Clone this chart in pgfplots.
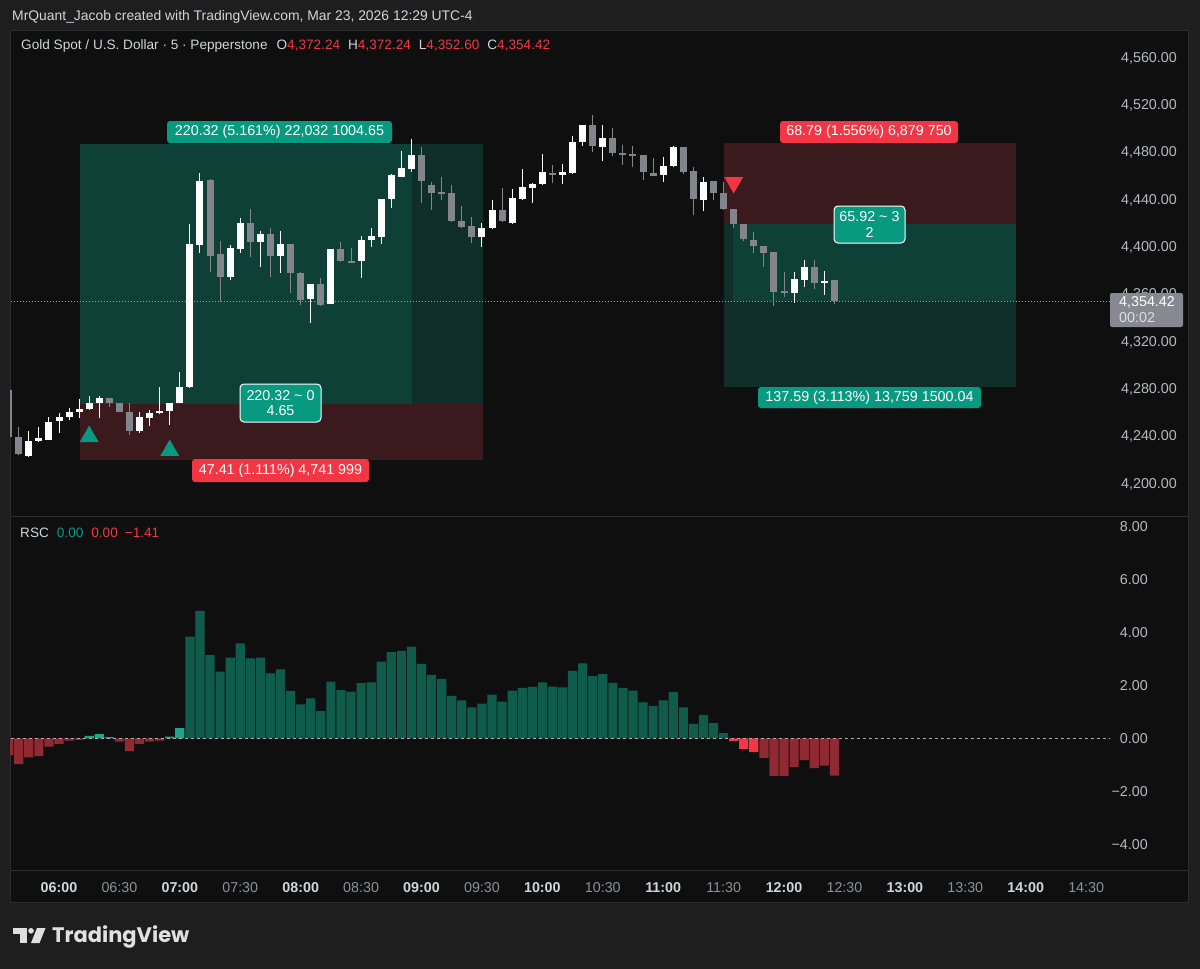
\documentclass[border=0pt]{standalone}
\usepackage{fontspec}
\setmainfont{Liberation Sans}
\newfontfamily\logofont{Poppins}
\usepackage{pgfplots}
\usepackage{pgfplotstable}
\pgfplotsset{compat=1.18}
\newcommand\fs[1]{\fontsize{#1}{#1}\selectfont}
\definecolor{outerbg}{HTML}{1E1E1E}
\definecolor{panebg}{HTML}{0F0F0F}
\definecolor{framec}{HTML}{2C2C2C}
\definecolor{sepc}{HTML}{2E2E2E}
\definecolor{txt}{HTML}{D1D4DC}
\definecolor{axtxt}{HTML}{B8B9BE}
\definecolor{axtxtdim}{HTML}{8E9098}
\definecolor{tvred}{HTML}{F23645}
\definecolor{tvteal}{HTML}{089981}
\definecolor{cgrey}{HTML}{83848C}
\definecolor{boxgreen}{HTML}{0E4038}
\definecolor{boxgreendk}{HTML}{0F2E29}
\definecolor{boxred}{HTML}{3B1A1E}
\definecolor{rscgreen}{HTML}{0F5C4D}
\definecolor{rscteal}{HTML}{1FA68A}
\definecolor{rscred}{HTML}{8F2A33}
\definecolor{pricebox}{HTML}{878891}
\definecolor{zeroc}{HTML}{A9ACB4}

\pgfplotstableread{
t o h l c
-25 4279.48 4282.01 4239.73 4239.73
-20 4239.73 4248.19 4224.51 4225.35
25 4272.71 4272.71 4265.10 4268.48
30 4268.48 4268.48 4260.87 4260.87
35 4260.87 4268.48 4241.42 4244.80
75 4457.07 4458.00 4379.27 4392.80
80 4394.49 4405.49 4354.00 4375.04
95 4420.71 4432.55 4391.96 4404.64
105 4411.41 4416.48 4375.04 4392.80
115 4402.95 4402.95 4361.51 4378.42
120 4378.42 4379.27 4351.36 4355.59
130 4369.12 4374.20 4350.52 4351.36
140 4398.72 4404.64 4387.73 4388.57
145 4388.57 4399.57 4387.30 4387.73
180 4478.22 4484.98 4437.62 4456.23
185 4452.85 4455.38 4431.70 4446.08
190 4446.93 4459.61 4440.16 4445.23
195 4446.08 4452.85 4421.55 4422.40
200 4422.40 4435.09 4416.48 4417.33
205 4418.17 4425.78 4403.79 4408.87
220 4431.70 4450.31 4421.55 4422.40
245 4462.99 4469.76 4454.54 4461.30
265 4503.59 4512.04 4480.75 4485.83
275 4492.59 4501.05 4477.37 4479.91
280 4479.91 4486.67 4469.76 4478.60
285 4479.06 4485.83 4468.07 4477.80
290 4478.22 4478.22 4457.07 4463.84
295 4462.99 4475.68 4460.46 4460.46
310 4484.98 4484.98 4462.15 4463.84
315 4464.69 4468.07 4427.47 4441.01
325 4456.23 4456.23 4440.16 4446.08
330 4446.08 4455.38 4431.70 4432.55
335 4432.55 4432.55 4416.48 4419.86
340 4419.86 4419.86 4405.49 4407.18
345 4406.33 4413.10 4395.34 4401.26
350 4401.26 4401.26 4383.50 4395.34
355 4396.18 4396.18 4350.52 4362.36
360 4363.20 4379.27 4358.13 4361.51
375 4383.50 4389.42 4364.89 4369.97
385 4372.24 4372.24 4352.60 4354.42
}\downdata

\pgfplotstableread{
t o h l c
-15 4223.66 4244.80 4222.82 4236.35
-10 4236.35 4248.19 4235.50 4238.88
-5 4237.19 4256.64 4237.19 4252.41
0 4253.26 4260.03 4243.11 4256.64
5 4256.64 4264.25 4254.11 4260.87
10 4260.87 4271.87 4255.80 4263.41
15 4263.41 4274.40 4262.56 4268.48
20 4268.48 4274.40 4255.80 4272.71
40 4244.80 4260.87 4243.11 4256.64
45 4255.80 4262.56 4249.03 4260.03
50 4260.03 4282.01 4259.18 4261.72
55 4261.72 4268.48 4249.88 4268.48
60 4268.48 4294.70 4268.48 4282.01
65 4282.01 4419.86 4281.17 4402.95
70 4402.10 4462.99 4395.34 4456.23
85 4375.04 4402.10 4372.50 4399.57
90 4398.72 4424.94 4395.34 4420.71
100 4404.64 4413.94 4383.50 4411.41
110 4392.80 4413.94 4378.42 4402.95
125 4356.44 4369.12 4336.14 4369.12
135 4352.21 4398.72 4352.21 4398.72
150 4388.57 4409.71 4374.20 4406.33
155 4406.33 4416.48 4400.41 4409.71
160 4408.87 4441.01 4402.95 4441.01
165 4441.01 4462.15 4433.39 4461.30
170 4459.61 4481.60 4459.61 4467.22
175 4466.38 4491.75 4463.84 4478.22
210 4408.87 4420.71 4400.41 4416.48
215 4416.48 4440.16 4415.63 4431.70
225 4420.71 4449.46 4419.86 4441.85
230 4441.01 4466.38 4440.16 4451.15
235 4450.31 4454.54 4437.62 4453.69
240 4453.69 4479.06 4452.85 4463.84
250 4461.30 4470.61 4453.69 4463.84
255 4462.99 4494.28 4462.15 4489.21
260 4489.21 4503.59 4485.83 4503.59
270 4484.98 4503.59 4473.14 4492.59
300 4461.30 4476.53 4455.38 4468.91
305 4468.91 4485.83 4468.07 4484.98
320 4440.16 4459.61 4430.86 4455.38
365 4361.51 4379.27 4353.05 4373.35
370 4372.50 4389.42 4366.58 4383.50
380 4370.30 4380.12 4359.82 4371.66
}\updata

\pgfplotstableread{
t v
65 3.84
70 4.81
75 3.14
80 2.52
85 3.04
90 3.58
95 3.02
100 3.04
105 2.45
110 2.60
115 1.79
120 1.28
125 1.51
130 1.03
135 2.14
140 1.82
145 1.76
150 2.08
155 2.11
160 2.89
165 3.25
170 3.30
175 3.46
180 2.81
185 2.39
190 2.24
195 1.60
200 1.43
205 1.17
210 1.31
215 1.65
220 1.38
225 1.80
230 1.90
235 1.94
240 2.11
245 1.95
250 1.92
255 2.54
260 2.83
265 2.35
270 2.43
275 2.09
280 1.90
285 1.80
290 1.36
295 1.22
300 1.43
305 1.75
310 1.17
315 0.54
320 0.88
325 0.57
330 0.20
}\rscdkgreen

\pgfplotstableread{
t v
15 0.09
20 0.16
25 0.04
55 0.06
60 0.38
}\rsclight

\pgfplotstableread{
t v
-25 -0.63
-20 -0.97
-15 -0.72
-10 -0.67
-5 -0.31
0 -0.21
5 -0.09
10 -0.06
30 -0.13
35 -0.48
40 -0.21
45 -0.13
50 -0.09
350 -0.74
355 -1.42
360 -1.42
365 -1.08
370 -0.82
375 -1.13
380 -1.03
385 -1.41
}\rscdkred

\pgfplotstableread{
t v
335 -0.11
340 -0.40
345 -0.52
}\rscbright

\begin{document}
\begin{tikzpicture}
% frame
\fill[outerbg] (0pt,0pt) rectangle (1200pt,-969pt);
\fill[panebg] (10pt,-30pt) rectangle (1189pt,-903pt);
\draw[framec, line width=1pt] (10.5pt,-30.5pt) rectangle (1188.5pt,-902.5pt);
\draw[sepc, line width=1pt] (10pt,-516pt) -- (1189pt,-516pt);
\draw[sepc, line width=0.6pt] (10pt,-870pt) -- (1189pt,-870pt);

% price pane
\begin{axis}[
  at={(10pt,-30pt)}, anchor=north west, scale only axis,
  width=1100pt, height=486pt,
  xmin=-24.33, xmax=521.85, ymin=4172.92, ymax=4583.93,
  axis line style={draw=none}, major tick length=0pt,
  xtick=\empty,
  ytick={4200,4240,4280,4320,4360,4400,4440,4480,4520,4560},
  yticklabels={{4,200.00},{4,240.00},{4,280.00},{4,320.00},{4,360.00},{4,400.00},{4,440.00},{4,480.00},{4,520.00},{4,560.00}},
  yticklabel pos=right,
  yticklabel style={anchor=east, inner sep=0pt, xshift=67pt, text=axtxt, font=\fs{14.3}},
]
% position tools
\fill[boxgreen] (axis cs:10.43,4267.6) rectangle (axis cs:175.3,4487.92);
\fill[boxgreendk] (axis cs:175.3,4267.6) rectangle (axis cs:210.5,4487.92);
\fill[boxred] (axis cs:10.43,4220.19) rectangle (axis cs:210.5,4267.6);
\fill[boxred] (axis cs:330.2,4419.9) rectangle (axis cs:475.2,4488.69);
\fill[boxgreendk] (axis cs:330.2,4282.31) rectangle (axis cs:475.2,4419.9);
\fill[boxgreen] (axis cs:334.7,4354.42) rectangle (axis cs:475.2,4419.9);
% current price line
\addplot[color=cgrey!80, line width=0.8pt, dash pattern=on 1pt off 2pt] coordinates {(-30,4354.42) (530,4354.42)};
% wicks
\addplot[draw=none, mark=none, error bars/.cd, y dir=both, y explicit, error mark=none,
  error bar style={draw=cgrey, line width=1pt}]
  table[x=t, y expr={(\thisrow{h}+\thisrow{l})/2}, y error expr={(\thisrow{h}-\thisrow{l})/2}] {\downdata};
\addplot[draw=none, mark=none, error bars/.cd, y dir=both, y explicit, error mark=none,
  error bar style={draw=white, line width=1pt}]
  table[x=t, y expr={(\thisrow{h}+\thisrow{l})/2}, y error expr={(\thisrow{h}-\thisrow{l})/2}] {\updata};
% bodies
\addplot[draw=none, mark=none, error bars/.cd, y dir=both, y explicit, error mark=none,
  error bar style={draw=cgrey, line width=7pt}]
  table[x=t, y expr={(\thisrow{o}+\thisrow{c})/2}, y error expr={max(abs(\thisrow{o}-\thisrow{c})/2,0.45)}] {\downdata};
\addplot[draw=none, mark=none, error bars/.cd, y dir=both, y explicit, error mark=none,
  error bar style={draw=white, line width=7pt}]
  table[x=t, y expr={(\thisrow{o}+\thisrow{c})/2}, y error expr={max(abs(\thisrow{o}-\thisrow{c})/2,0.45)}] {\updata};
% signals
\addplot[only marks, mark=triangle*, mark size=10.5pt, color=tvteal, mark options={draw=none, fill=tvteal}]
  coordinates {(15,4240.1) (55,4228.3)};
\addplot[only marks, mark=triangle*, mark size=10.5pt, color=tvred, mark options={draw=none, fill=tvred, rotate=180}]
  coordinates {(335,4455.0)};
\end{axis}

% RSC pane
\begin{axis}[
  at={(10pt,-516pt)}, anchor=north west, scale only axis,
  width=1100pt, height=354pt,
  xmin=-24.33, xmax=521.85, ymin=-4.97, ymax=8.389,
  axis line style={draw=none}, major tick length=0pt,
  ytick={-4,-2,0,2,4,6,8},
  yticklabels={−4.00,−2.00,0.00,2.00,4.00,6.00,8.00},
  yticklabel pos=right,
  yticklabel style={anchor=east, inner sep=0pt, xshift=38pt, text=axtxt, font=\fs{14.3}},
  xtick={0,30,60,90,120,150,180,210,240,270,300,330,360,390,420,450,480,510},
  xticklabels={{\bfseries\color{txt}06:00},06:30,{\bfseries\color{txt}07:00},07:30,{\bfseries\color{txt}08:00},08:30,{\bfseries\color{txt}09:00},09:30,{\bfseries\color{txt}10:00},10:30,{\bfseries\color{txt}11:00},11:30,{\bfseries\color{txt}12:00},12:30,{\bfseries\color{txt}13:00},13:30,{\bfseries\color{txt}14:00},14:30},
  xticklabel style={anchor=center, inner sep=0pt, yshift=-18pt, text=axtxtdim, font=\fs{14.3}},
]
\addplot[ybar, bar width=9.2pt, bar shift=0pt, fill=rscgreen, draw=none] table[x=t, y=v] {\rscdkgreen};
\addplot[ybar, bar width=9.2pt, bar shift=0pt, fill=rscteal, draw=none] table[x=t, y=v] {\rsclight};
\addplot[ybar, bar width=9.2pt, bar shift=0pt, fill=rscred, draw=none] table[x=t, y=v] {\rscdkred};
\addplot[ybar, bar width=9.2pt, bar shift=0pt, fill=tvred, draw=none] table[x=t, y=v] {\rscbright};
\addplot[color=zeroc, line width=0.8pt, dash pattern=on 3pt off 3pt] coordinates {(-30,0) (530,0)};
\end{axis}

% texts
\node[anchor=west, inner sep=0pt, text=txt, font=\fs{13.9}] at (12pt,-17pt)
  {MrQuant\_Jacob created with TradingView.com, Mar 23, 2026 12:29 UTC-4};
\node[anchor=west, inner sep=0pt, text=txt, font=\fs{13.6}] at (21pt,-46pt)
  {Gold Spot / U.S. Dollar · 5 · Pepperstone\hspace{9pt}O\textcolor{tvred}{4,372.24}\hspace{8pt}H\textcolor{tvred}{4,372.24}\hspace{8pt}L\textcolor{tvred}{4,352.60}\hspace{8pt}C\textcolor{tvred}{4,354.42}};
\node[anchor=west, inner sep=0pt, text=txt, font=\fs{13.6}] at (20pt,-533pt)
  {RSC\hspace{8pt}\textcolor{tvteal}{0.00}\hspace{8pt}\textcolor{tvred}{0.00}\hspace{7pt}\textcolor{tvred}{−1.41}};

% position labels
\node[fill=tvteal, rounded corners=3pt, text=white, inner sep=0pt, minimum width=225pt, minimum height=22pt, font=\fs{14.3}] at (279.5pt,-132pt) {220.32 (5.161\%) 22,032 1004.65};
\node[fill=tvteal, draw=white, line width=1pt, rounded corners=4pt, text=white, inner sep=0pt, align=center, minimum width=81pt, minimum height=38pt, font=\fontsize{14.3}{15.5}\selectfont] at (280.5pt,-403pt) {220.32 \textasciitilde{} 0\\4.65};
\node[fill=tvred, rounded corners=3pt, text=white, inner sep=0pt, minimum width=177pt, minimum height=23pt, font=\fs{14.3}] at (280.5pt,-470.5pt) {47.41 (1.111\%) 4,741 999};
\node[fill=tvred, rounded corners=3pt, text=white, inner sep=0pt, minimum width=178pt, minimum height=22pt, font=\fs{14.3}] at (869pt,-132pt) {68.79 (1.556\%) 6,879 750};
\node[fill=tvteal, draw=white, line width=1pt, rounded corners=4pt, text=white, inner sep=0pt, align=center, minimum width=71pt, minimum height=37pt, font=\fontsize{14.3}{15.5}\selectfont] at (869.5pt,-224.5pt) {65.92 \textasciitilde{} 3\\2};
\node[fill=tvteal, rounded corners=3pt, text=white, inner sep=0pt, minimum width=223pt, minimum height=21pt, font=\fs{14.3}] at (869.5pt,-397.5pt) {137.59 (3.113\%) 13,759 1500.04};

% current price label
\fill[pricebox, rounded corners=2pt] (1110pt,-293pt) rectangle (1183pt,-327pt);
\node[anchor=west, inner sep=0pt, text=white, font=\fs{14.3}] at (1119pt,-302pt) {4,354.42};
\node[anchor=west, inner sep=0pt, text=white!88!black, font=\fs{14.3}] at (1119pt,-318pt) {00:02};

% logo
\fill[white!88!black] (13pt,-928pt) rectangle (27pt,-933.5pt);
\fill[white!88!black] (19.5pt,-928pt) rectangle (27pt,-943pt);
\fill[white!88!black] (31pt,-930.8pt) circle (2.8pt);
\fill[white!88!black] (37pt,-928pt) -- (45.5pt,-928pt) -- (39.5pt,-943pt) -- (31pt,-943pt) -- cycle;
\node[anchor=west, inner sep=0pt, text=white!88!black, font=\logofont\bfseries\fs{21}] at (52pt,-937pt) {TradingView};

\pgfresetboundingbox
\useasboundingbox (0pt,0pt) rectangle (1200pt,-969pt);
\end{tikzpicture}
\end{document}
